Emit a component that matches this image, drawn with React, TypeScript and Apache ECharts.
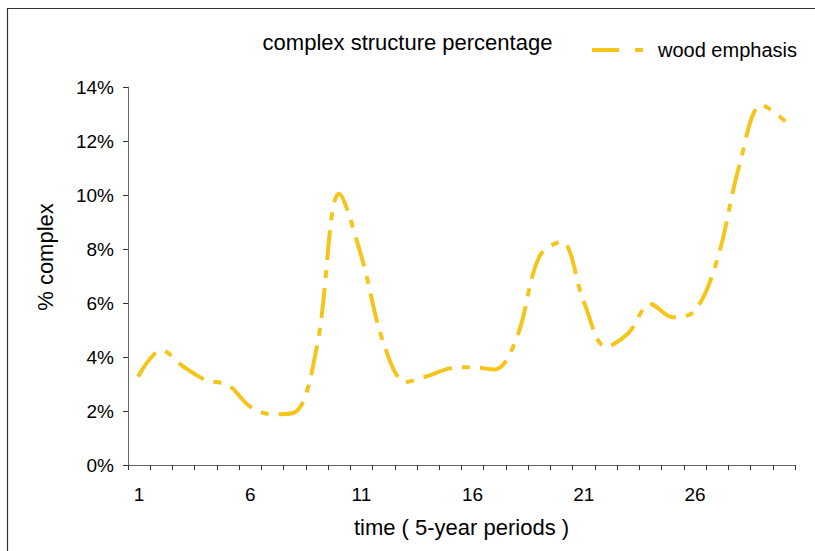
import React, { useEffect, useRef } from "react";
import * as echarts from "echarts";

const categories: string[] = [
  "1", "2", "3", "4", "5", "6", "7", "8", "9", "10",
  "11", "12", "13", "14", "15", "16", "17", "18", "19", "20",
  "21", "22", "23", "24", "25", "26", "27", "28", "29", "30",
];

const woodEmphasis: number[] = [
  3.33, 4.25, 3.64, 3.15, 2.96, 2.16, 1.88, 1.95, 4.4, 10.05,
  7.72, 4.5, 3.08, 3.3, 3.58, 3.62, 3.54, 4.75, 7.72, 8.27,
  6.05, 4.38, 4.88, 5.96, 5.47, 5.72, 7.6, 11.1, 13.33, 12.78,
];

const seriesName = "wood emphasis";
const chartTitle = "complex structure percentage";
const xAxisName = "time ( 5-year periods )";
const yAxisName = "% complex";

const FONT = "'Liberation Sans', Arial, sans-serif";
const LINE_COLOR = "#F6C51C";

export default function App() {
  const ref = useRef<HTMLDivElement>(null);

  useEffect(() => {
    if (!ref.current) return;
    const chart = echarts.init(ref.current, undefined, { renderer: "svg" });
    chart.setOption({
      animation: false,
      backgroundColor: "#ffffff",
      textStyle: { fontFamily: FONT, color: "#000" },
      title: {
        text: chartTitle,
        left: "center",
        top: 31,
        padding: 0,
        textStyle: { fontFamily: FONT, fontSize: 22, fontWeight: "normal", color: "#000" },
      },
      legend: {
        left: 590,
        top: 40,
        padding: 0,
        itemWidth: 61,
        itemHeight: 14,
        textStyle: { fontFamily: FONT, fontSize: 20, color: "#000" },
        data: [
          {
            name: seriesName,
            itemStyle: {
              color: "rgba(0,0,0,0)",
              borderColor: "rgba(0,0,0,0)",
              borderWidth: 0,
              opacity: 0,
            },
            lineStyle: { color: LINE_COLOR, width: 4, type: [27, 16, 8, 20], cap: "butt", opacity: 1 },
          },
        ],
      },
      grid: { left: 128, right: 20, top: 87, bottom: 86, containLabel: false },
      xAxis: {
        type: "category",
        data: categories,
        boundaryGap: true,
        name: xAxisName,
        nameLocation: "middle",
        nameGap: 51,
        nameTextStyle: { fontFamily: FONT, fontSize: 22, color: "#000" },
        axisLine: { show: true, lineStyle: { color: "#666", width: 1 } },
        axisTick: { show: true, interval: 0, length: 5, inside: false, lineStyle: { color: "#333" } },
        axisLabel: { interval: 4, margin: 20, fontFamily: FONT, fontSize: 19, color: "#000" },
        splitLine: { show: false },
      },
      yAxis: {
        type: "value",
        min: 0,
        max: 14,
        interval: 2,
        axisLine: { show: true, lineStyle: { color: "#666", width: 1 } },
        axisTick: { show: true, length: 5, lineStyle: { color: "#333" } },
        axisLabel: {
          margin: 14,
          fontFamily: FONT,
          fontSize: 19,
          color: "#000",
          formatter: (v: number) => `${v}%`,
        },
        splitLine: { show: false },
      },
      graphic: [
        {
          type: "polyline",
          shape: { points: [[7.5, 560], [7.5, 8.5], [820, 8.5]] },
          style: { stroke: "#333", lineWidth: 1.2, fill: "none" },
          silent: true,
        },
        {
          type: "text",
          x: 45,
          y: 257,
          rotation: Math.PI / 2,
          style: {
            text: yAxisName,
            font: `22px ${FONT}`,
            fill: "#000",
            align: "center",
            verticalAlign: "middle",
          },
        },
      ],
      series: [
        {
          name: seriesName,
          type: "line",
          data: woodEmphasis,
          smooth: 0.35,
          symbol: "none",
          showSymbol: false,
          lineStyle: { color: LINE_COLOR, width: 4, type: [26, 14, 4, 14], cap: "square" },
          itemStyle: { color: LINE_COLOR },
        },
      ],
    });
    return () => chart.dispose();
  }, []);

  return (
    <div
      ref={ref}
      style={{ position: "fixed", left: 0, top: 0, width: 815, height: 551, background: "#fff" }}
    />
  );
}
